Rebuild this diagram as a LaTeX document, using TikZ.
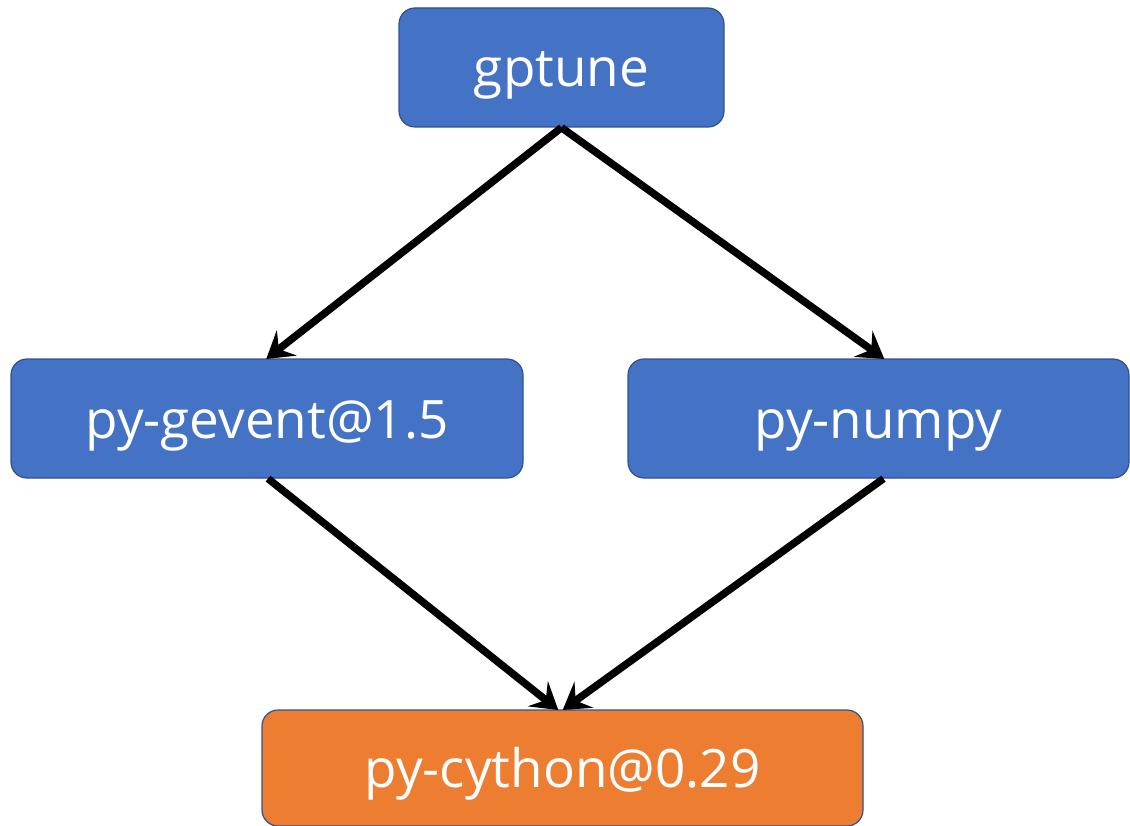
\documentclass[tikz,border=0pt]{standalone}
\usepackage{fontspec}
\setmainfont{Open Sans}
\usetikzlibrary{arrows.meta}
\definecolor{boxblue}{HTML}{4472C4}
\definecolor{boxorange}{HTML}{ED7D31}
\definecolor{edgeblue}{HTML}{2F528F}
\tikzset{
  pkg/.style={draw=edgeblue, line width=1.2pt, rounded corners=16pt, inner sep=0pt,
    text=white, font=\fontsize{53}{58}\selectfont, fill=boxblue,
    text height=52pt, text depth=13pt},
  root/.style={pkg, fill=boxorange},
  dep/.style={line width=7.5pt, -{Stealth[length=26pt,width=32pt,inset=10pt]}, shorten >=-1pt}
}
\begin{document}
\begin{tikzpicture}[x=1pt,y=-1pt]
\useasboundingbox (0,0) rectangle (1130,826);
\node[pkg, minimum width=325pt, minimum height=119pt] (gptune) at (561.5,67.5) {gptune};
\node[pkg, minimum width=512pt, minimum height=119pt] (gevent) at (267,418.5) {py-gevent@1.5};
\node[pkg, minimum width=501pt, minimum height=119pt] (numpy) at (878.5,418.5) {py-numpy};
\node[root, minimum width=601pt, minimum height=116pt] (cython) at (562.5,768) {py-cython@0.29};
\draw[dep] (gptune.south) -- (gevent.north);
\draw[dep] (gptune.south) -- ([xshift=5pt]numpy.north);
\draw[dep] ([xshift=1pt]gevent.south) -- ([xshift=-5pt]cython.north);
\draw[dep] ([xshift=5pt]numpy.south) -- ([xshift=1pt]cython.north);
\end{tikzpicture}
\end{document}
